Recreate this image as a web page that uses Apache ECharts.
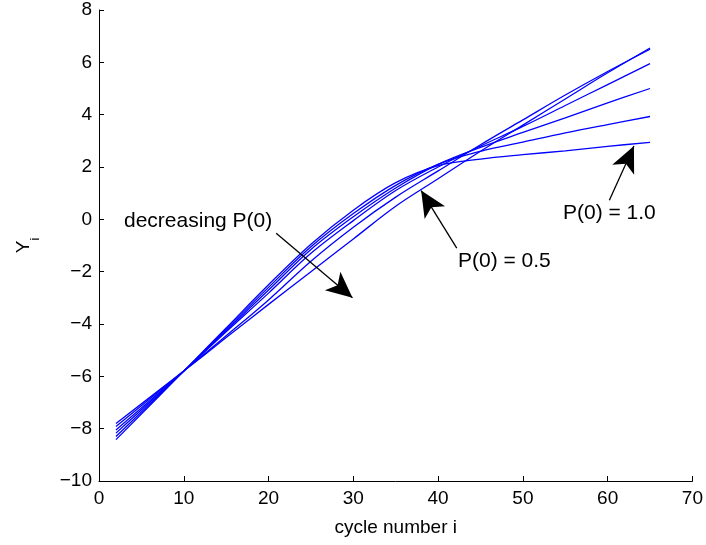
<!DOCTYPE html>
<html><head><meta charset="utf-8">
<script src="https://cdn.jsdelivr.net/npm/echarts@6/dist/echarts.min.js"></script>
<style>html,body{margin:0;padding:0;background:#fff}#c{width:706px;height:545px}</style>
</head><body><div id="c"></div>
<script>
const cycles = [2, 10, 15, 20, 25, 30, 35, 40, 45, 50, 55, 60, 65];
const yP10 = [-8.42, -5.8, -4.15, -2.5, -0.95, 0.35, 1.4, 2.05, 2.3, 2.47, 2.62, 2.79, 2.94];
const yP09 = [-8.30, -5.8, -4.2, -2.6, -1.05, 0.22, 1.3, 2.1, 2.6, 2.95, 3.3, 3.62, 3.93];
const yP08 = [-8.17, -5.8, -4.25, -2.7, -1.15, 0.1, 1.2, 2.1, 2.75, 3.32, 3.88, 4.45, 5.0];
const yP07 = [-8.05, -5.8, -4.3, -2.82, -1.3, -0.05, 1.1, 2.0, 2.8, 3.55, 4.35, 5.15, 5.95];
const yP06 = [-7.92, -5.8, -4.45, -3.08, -1.6, -0.3, 0.85, 1.85, 2.85, 3.8, 4.75, 5.65, 6.5];
const yP05 = [-7.80, -5.8, -4.52, -3.25, -2.0, -0.75, 0.5, 1.55, 2.6, 3.6, 4.6, 5.6, 6.55];
const allSeries = [yP10, yP09, yP08, yP07, yP06, yP05];
const xTicks = [0, 10, 20, 30, 40, 50, 60, 70];
const yTicks = [-10, -8, -6, -4, -2, 0, 2, 4, 6, 8];

const fam = '"Liberation Sans", Arial, sans-serif';
const chart = echarts.init(document.getElementById('c'));
const series = allSeries.map(ys => ({
  type: 'line', data: cycles.map((x, i) => [x, ys[i]]),
  showSymbol: false, symbol: 'none', smooth: 0.35,
  lineStyle: { color: '#0000ff', width: 1.3 }, animation: false, silent: true
}));
const arrowLine = (a, b) => ({
  symbol: ['none', 'arrow'], symbolSize: [18, 26],
  silent: true, animation: false, label: { show: false },
  lineStyle: { color: '#000', width: 1.3, type: 'solid' },
  itemStyle: { color: '#000' },
  data: [[{ coord: a }, { coord: b }]]
});
series.push({ type: 'line', data: [], markLine: arrowLine([20.9, -0.53], [29.9, -3.0]) });
series.push({ type: 'line', data: [], markLine: arrowLine([42.2, -1.1], [38.0, 1.1]) });
series.push({ type: 'line', data: [], markLine: arrowLine([60.2, 0.73], [63.1, 2.8]) });

chart.setOption({
  animation: false,
  backgroundColor: '#fff',
  grid: { left: 99, right: 11, top: 10, bottom: 64 },
  xAxis: {
    type: 'value', min: xTicks[0], max: xTicks[xTicks.length - 1], interval: 10,
    name: 'cycle number i', nameLocation: 'middle', nameGap: 37,
    nameTextStyle: { fontFamily: fam, fontSize: 19, color: '#000' },
    axisLine: { onZero: false, lineStyle: { color: '#000', width: 1 } },
    axisTick: { inside: true, length: 5, lineStyle: { color: '#000' } },
    axisLabel: { fontFamily: fam, fontSize: 19, color: '#000', margin: 8 },
    splitLine: { show: false }
  },
  yAxis: {
    type: 'value', min: yTicks[0], max: yTicks[yTicks.length - 1], interval: 2,
    name: 'Y{s|i}', nameLocation: 'middle', nameGap: 66, nameRotate: 90,
    nameTextStyle: { fontFamily: fam, fontSize: 19, color: '#000',
      rich: { s: { fontFamily: fam, fontSize: 13, color: '#000', verticalAlign: 'bottom', padding: [0, 0, -9, 0] } } },
    axisLine: { show: true, onZero: false, lineStyle: { color: '#000', width: 1 } },
    axisTick: { show: true, inside: true, length: 5, lineStyle: { color: '#000' } },
    axisLabel: { fontFamily: fam, fontSize: 19, color: '#000', margin: 7,
      formatter: v => (v < 0 ? '\u2212' + Math.abs(v) : '' + v) },
    splitLine: { show: false }
  },
  graphic: [
    { type: 'text', left: 124, top: 211, style: { text: 'decreasing P(0)', fontFamily: fam, fontSize: 21, fill: '#000' } },
    { type: 'text', left: 458, top: 251, style: { text: 'P(0) = 0.5', fontFamily: fam, fontSize: 21, fill: '#000' } },
    { type: 'text', left: 563, top: 203, style: { text: 'P(0) = 1.0', fontFamily: fam, fontSize: 21, fill: '#000' } }
  ],
  series: series
});
</script></body></html>
